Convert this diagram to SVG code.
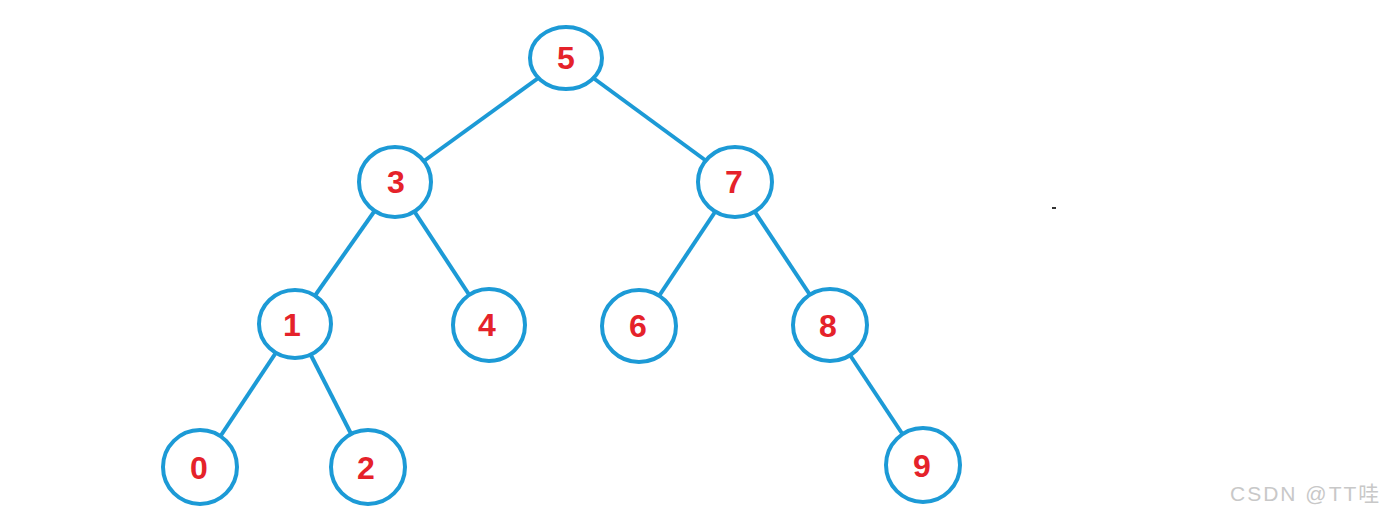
<svg xmlns="http://www.w3.org/2000/svg" width="1386" height="518" viewBox="0 0 1386 518">
<style>
.n ellipse{fill:#fff;stroke:#1c9ad6;stroke-width:4}
.n text{font-family:"Liberation Sans",Arial,sans-serif;font-weight:bold;font-size:32px;fill:#e5222a;text-anchor:middle}
#edges line{stroke:#1c9ad6;stroke-width:4}
.wm{font-family:"Liberation Sans","Noto Sans CJK SC",sans-serif;font-size:21px;letter-spacing:2px;fill:#c8c8c8}
</style>
<rect width="1386" height="518" fill="#fff"/>
<g id="edges">
<line x1="566" y1="58" x2="395" y2="182"/>
<line x1="566" y1="58" x2="735" y2="182"/>
<line x1="395" y1="182" x2="295" y2="324"/>
<line x1="395" y1="182" x2="489" y2="325"/>
<line x1="735" y1="182" x2="639" y2="326"/>
<line x1="735" y1="182" x2="830" y2="325"/>
<line x1="295" y1="324" x2="200" y2="467"/>
<line x1="295" y1="324" x2="368" y2="467"/>
<line x1="830" y1="325" x2="923" y2="465"/>
</g>
<g id="n5" class="n"><ellipse cx="566" cy="58" rx="36" ry="31"/><text x="566" y="69">5</text></g>
<g id="n3" class="n"><ellipse cx="395" cy="182" rx="36" ry="35"/><text x="396" y="193">3</text></g>
<g id="n7" class="n"><ellipse cx="735" cy="182" rx="37" ry="35"/><text x="734" y="193">7</text></g>
<g id="n1" class="n"><ellipse cx="295" cy="324" rx="36" ry="34"/><text x="292" y="336">1</text></g>
<g id="n4" class="n"><ellipse cx="489" cy="325" rx="36" ry="36"/><text x="487" y="336">4</text></g>
<g id="n6" class="n"><ellipse cx="639" cy="326" rx="37" ry="36"/><text x="638" y="337">6</text></g>
<g id="n8" class="n"><ellipse cx="830" cy="325" rx="37" ry="36"/><text x="828" y="337">8</text></g>
<g id="n0" class="n"><ellipse cx="200" cy="467" rx="37" ry="37"/><text x="199" y="479">0</text></g>
<g id="n2" class="n"><ellipse cx="368" cy="467" rx="37" ry="37"/><text x="366" y="479">2</text></g>
<g id="n9" class="n"><ellipse cx="923" cy="465" rx="37" ry="37"/><text x="922" y="477">9</text></g>
<rect x="1052" y="207" width="4" height="2" fill="#333"/>
<text class="wm" x="1230" y="501">CSDN @TT哇</text>
</svg>
